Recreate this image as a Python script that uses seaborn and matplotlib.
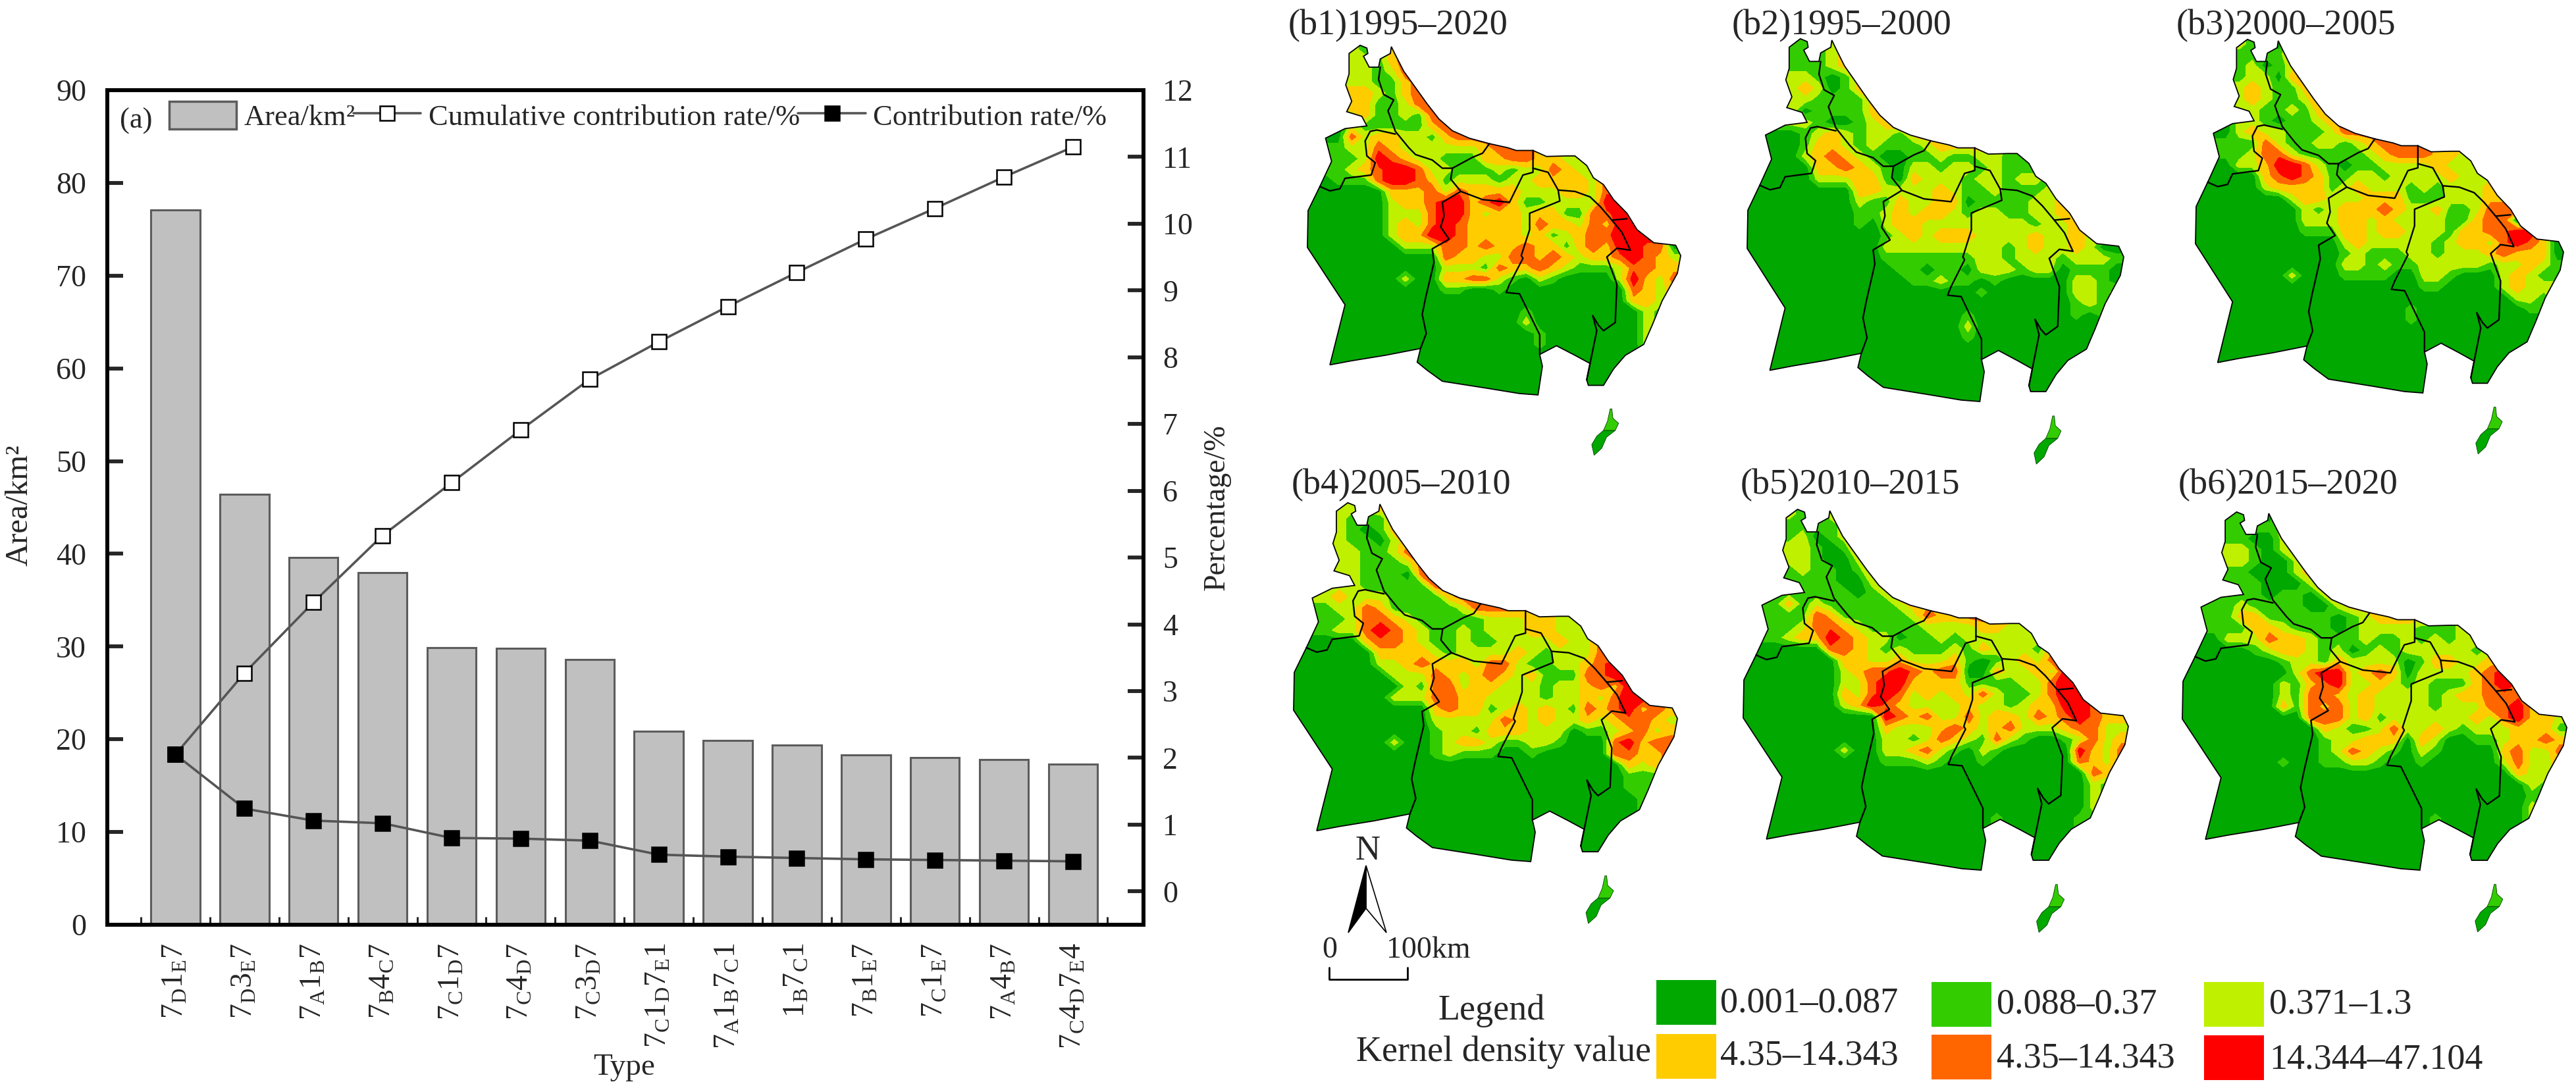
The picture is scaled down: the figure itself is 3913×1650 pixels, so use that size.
import re
import numpy as np
import pandas as pd
import seaborn as sns
import matplotlib.pyplot as plt
from matplotlib.lines import Line2D
from matplotlib.patches import Patch, Polygon, Rectangle
from matplotlib.path import Path

W, H = 3913, 1650

# bar + line chart
TYPES = ['7D1E7', '7D3E7', '7A1B7', '7B4C7', '7C1D7', '7C4D7', '7C3D7', '7C1D7E1', '7A1B7C1', '1B7C1',
         '7B1E7', '7C1E7', '7A4B7', '7C4D7E4']
AREA = [77.1, 46.4, 39.6, 38.0, 29.9, 29.8, 28.6, 20.9, 19.9, 19.4, 18.3, 18.0, 17.8, 17.3]
CUMULATIVE = [2.05, 3.27, 4.33, 5.33, 6.12, 6.91, 7.67, 8.23, 8.76, 9.27, 9.77, 10.23, 10.7, 11.15]
CONTRIBUTION = [2.05, 1.24, 1.06, 1.02, 0.8, 0.79, 0.76, 0.55, 0.52, 0.5, 0.48, 0.47, 0.46, 0.45]

# map panels
PANEL_TITLES = ['(b1)1995–2020', '(b2)1995–2000', '(b3)2000–2005', '(b4)2005–2010', '(b5)2010–2015', '(b6)2015–2020']
LEGEND_LABELS = ['0.001–0.087', '0.088–0.37', '0.371–1.3', '4.35–14.343', '4.35–14.343', '14.344–47.104']
CLASS_COLORS = ['#00A800', '#33CC00', '#BFF000', '#FFCC00', '#FF6600', '#FF0000']

# kernel density class per map cell, '.' is class 1
GRID_B1 = ["...32.4", "...33245", "...33235", "...332245", "...4432455", "...4422355", "...34223255",
           "....22222455", "...53443324555", "..2335433333345554", "..2236543322244554433",
           "..23456653322232335433", "..222566542333233444435", "......444535444433344355",
           "......3445664564223333665", "......3335664344344225566", "......34356544443544354665",
           "......34466544443423455666", ".......33355454454424546655", "..........544335545434456543",
           "..........333254454322235544", ".......3..445532.32....36435", "..........22..2.........5434",
           "........................443", "................2........32", "................3........32",
           ".................2.......3", ".................2.......3", ".........................2"]
GRID_B2 = ["...22.3", "...22.34", "...22234", "...332.245", "...343.244", "...33222244", ".....2222455",
           "...332..23455", "....23432332444", "....24432322234444", "....345432..223223322",
           ".....445432.3323323222", ".....333442.43332332332", "........4433334322322233",
           "........32243344.2222334", "........22343443233223344", "........2.3443333333323344",
           "..........2343444333343343", "..........3333333332343343", "..........222222233233323332",
           "...........22.22.333233.222", "............22322.2.....332", ".................2......3323",
           "........................2322", "................2.......2", "................3", "................2"]
GRID_B3 = ["...32..4", "...22.24", "...23.235", "...233.455", "...34322455", "...34322355", "....32232455",
           ".....2.223455", "...34332223555", "..22253223323455", "..2235532222234555443",
           "...33466532.2233334333", ".....456542233233334333", ".....344442343332323334",
           ".......3443334442223334", "........3234445433422355", "........3334434333322455",
           "........22244344333244556", "...........3433333234435654", "...........2322233233345444",
           "...........33232233333233432", ".......3...2222..332...34322", ".................22....34333",
           "........................3323", "................2........2", "................2"]
GRID_B4 = ["...33.4", "...32.24", "...32.244", "...322.34", "...3322355", "...33222355", "...33222.55",
           "....32222255", "..343332222455", "..23354222223555", "..2235543222223334433",
           "..23356543223233344333", ".....455432232233334335", "......444432333343233354",
           "......3345444355322334565", ".......333543454342225566", "........325534433323345466",
           ".......33355443333233435664", "..........454423434325456454", "..........333335434334345543",
           "..........2332444333.2234534", ".......3..2344322332...56455", "..........23222..2.....55445",
           "........................434", "........................222", "........................22",
           ".........................2", ".........................2"]
GRID_B5 = ["...32.3", "...22.23", "...23.234", "...332.24", "...332..34", "...2322.244", "...2222..344",
           ".....222.2355", "..2423222223444", "..22254222223544554", "..2235543222233334433",
           "..234465433.2232333333", "......55432322232433324", ".......4433433342.234354",
           ".......345565455..4334365", ".......335664444222233566", ".......4356534343532235665",
           ".......34654333343323446653", "..........654533534435456544", "..........433345434533345533",
           "..........33235432532..23534", ".......3..334532.32.....6435", "..........22232..2......5435",
           ".........................54", ".........................32", ".........................32",
           ".........................3", "..................2.....22"]
GRID_B6 = ["...22..3", "...22.23", "...22..3", "...332.34", "...332..34", "...22...344", "...222...344",
           ".....2.22.344", "..2232222..344", "..224422222.234444", "..222443222.233332223",
           "...333544322232232323", ".....2344323.2323333323", ".......233243333.244334",
           "........35663454.3333456", ".......324563343232224565", ".......325543433332344555",
           ".......4254534333323335564", ".........5553423333334356443", "..........432235334323334442",
           "..........233444.43..2234454", "..........235432.32....45335", ".......2..22332..2.....35334",
           "........................433", ".........................32", ".........................22",
           ".........................32", "..................2......3"]
GRIDS = [GRID_B1, GRID_B2, GRID_B3, GRID_B4, GRID_B5, GRID_B6]

# where the map sits in each panel: left, right, top, bottom of the mainland (px)
PANEL_BOXES = [(1986, 2553, 68, 600), (2654, 3226, 58, 610), (3335, 3894, 59, 597),
               (1965, 2548, 763, 1309), (2648, 3233, 773, 1322), (3315, 3899, 777, 1322)]
TITLE_POS = [(1957, 52), (2631, 52), (3306, 52), (1962, 750), (2644, 750), (3309, 750)]

OUTLINE = [(325, 165), (345, 175), (348, 195), (335, 205), (352, 245), (380, 245), (385, 215), (415, 195), (418, 170),
           (430, 200), (455, 260), (490, 320), (525, 380), (560, 435), (600, 478), (650, 505), (710, 525), (765, 540),
           (790, 550), (840, 550), (880, 572), (940, 570), (965, 570), (1000, 605), (1020, 650), (1050, 675), (1080, 730),
           (1120, 780), (1150, 840), (1200, 888), (1265, 897), (1280, 935), (1270, 1000), (1225, 1100), (1195, 1190),
           (1170, 1260), (1115, 1300), (1080, 1350), (1050, 1410), (1005, 1410), (1000, 1390), (1010, 1330), (965, 1300),
           (910, 1265), (860, 1297), (868, 1340), (855, 1445), (800, 1440), (700, 1420), (570, 1395), (525, 1355),
           (495, 1325), (505, 1275), (400, 1300), (300, 1320), (235, 1335), (280, 1115), (240, 1040), (168, 905),
           (170, 770), (205, 682), (240, 590), (222, 505), (280, 470), (345, 460), (330, 425), (285, 408), (300, 370),
           (282, 310), (292, 270), (292, 195)]
DISTRICTS = [
    [(385, 245), (380, 290), (395, 345), (425, 365), (408, 405), (430, 480), (470, 540), (490, 565), (540, 585), (570, 615),
     (600, 615), (660, 575), (690, 560), (710, 525)],
    [(205, 682), (235, 698), (265, 690), (280, 652), (358, 640), (370, 595), (345, 570), (340, 515), (355, 480), (375, 475),
     (430, 490)],
    [(600, 615), (595, 655), (625, 700), (690, 730), (770, 740), (790, 690), (810, 640), (840, 630), (840, 550)],
    [(840, 615), (885, 630), (915, 695), (965, 700), (1010, 720), (1040, 755), (1075, 805), (1120, 800)],
    [(1075, 805), (1105, 850), (1130, 915), (1090, 908), (1060, 940), (1090, 1040), (1085, 1180), (1050, 1210), (1035, 1190),
     (1018, 1155), (1030, 1210), (1010, 1330), (1000, 1390)],
    [(915, 695), (920, 735), (830, 780), (830, 840), (805, 935), (810, 945), (770, 1040), (760, 1070), (800, 1075),
     (860, 1225), (860, 1297)],
    [(625, 700), (570, 740), (575, 790), (565, 830), (590, 875), (540, 910), (545, 960), (520, 1090), (510, 1150),
     (522, 1220), (505, 1275)],
]
ISLAND_NORTH = [(1070, 1496), (1075, 1496), (1078, 1530), (1095, 1549), (1085, 1575), (1050, 1575), (1062, 1541)]
ISLAND_SOUTH = [(1050, 1575), (1085, 1575), (1059, 1600), (1045, 1640), (1022, 1666), (1015, 1627), (1030, 1596)]

CELL = 40
X0, Y0 = 160, 160
NCOL, NROW = 29, 33

sns.set_theme(style='white')
plt.rcParams['font.family'] = ['Liberation Serif', 'DejaVu Serif']
plt.rcParams['mathtext.fontset'] = 'custom'
plt.rcParams['mathtext.rm'] = 'Liberation Serif'
plt.rcParams['mathtext.it'] = 'Liberation Serif'

fig = plt.figure(figsize=(W / 100, H / 100), dpi=100)


def type_label(code):
    # capitals are subscripts
    return '$' + re.sub(r'([A-E])', r'_{\\mathrm{\1}}', code) + '$'


# left chart
left, right, top, bottom = 163, 1737, 137, 1405
ax = fig.add_axes([left / W, 1 - bottom / H, (right - left) / W, (bottom - top) / H])
df = pd.DataFrame({'type': TYPES, 'area': AREA, 'pos': np.arange(len(AREA)),
                   'cumulative': CUMULATIVE, 'contribution': CONTRIBUTION})
sns.barplot(data=df, x='type', y='area', color='#C0C0C0', saturation=1, edgecolor='#5C5C5C', linewidth=2.2,
            width=0.71, ax=ax)
ax2 = ax.twinx()
sns.lineplot(data=df, x='pos', y='cumulative', color='#555555', linewidth=2.6, marker='s', markersize=16,
             markerfacecolor='white', markeredgecolor='black', markeredgewidth=1.8, ax=ax2)
sns.lineplot(data=df, x='pos', y='contribution', color='#555555', linewidth=2.6, marker='s', markersize=16,
             markerfacecolor='black', markeredgecolor='black', markeredgewidth=1.8, ax=ax2)

ax.set_xlim(-0.986, 14.02)
ax.set_ylim(0, 90)
ax2.set_ylim(-0.5, 12)
ax.set_yticks(np.arange(0, 100, 10))
ax2.set_yticks(np.arange(0, 13))
ax.set_xticks(np.arange(15) - 0.5, labels=[])
ax.set_xticks(np.arange(14), labels=[type_label(t) for t in TYPES], minor=True, rotation=90, fontsize=33)
ax.tick_params(axis='x', which='major', direction='in', length=9, width=2.2, bottom=True)
ax.tick_params(axis='x', which='minor', length=0, pad=20)
ax.tick_params(axis='y', direction='in', length=17, width=4.2, labelsize=33, pad=23, left=True)
ax2.tick_params(axis='y', direction='in', length=17, width=4.2, labelsize=33, pad=21, right=True)
ax.set_xlabel('Type', fontsize=34, va='baseline')
ax.xaxis.set_label_coords(0.4987, -0.18)
ax.set_ylabel('Area/km²', fontsize=35, va='center')
ax.yaxis.set_label_coords(-0.085, 0.503)
ax2.set_ylabel('Percentage/%', fontsize=33, va='center')
ax2.yaxis.set_label_coords(1.0705, 0.5)
for a in (ax, ax2):
    for s in a.spines.values():
        s.set_linewidth(4.2)
        s.set_color('black')

handles = [Patch(facecolor='#C0C0C0', edgecolor='#5C5C5C', linewidth=2.5, label='Area/km²'),
           Line2D([], [], color='#555555', lw=2.6, marker='s', ms=16, mfc='white', mec='black', mew=1.8,
                  label='Cumulative contribution rate/%'),
           Line2D([], [], color='#555555', lw=2.6, marker='s', ms=16, mfc='black', mec='black', mew=1.8,
                  label='Contribution rate/%')]
ax2.legend(handles=handles, ncol=3, frameon=False, fontsize=32, loc='upper left',
           bbox_to_anchor=(257 / W, 1 - 154 / H), bbox_transform=fig.transFigure, borderpad=0, borderaxespad=0,
           handlelength=2.3, handleheight=1.08, handletextpad=0.25, columnspacing=-0.05)

# maps
levels = [0.5, 1.6, 2.5, 3.4, 4.4, 5.3, 6.5]
outline_path = Path(OUTLINE + [OUTLINE[0]])
cx = X0 + CELL / 2 + CELL * np.arange(NCOL)
cy = Y0 + CELL / 2 + CELL * np.arange(NROW)
xx, yy = np.meshgrid(cx, cy)
inside = outline_path.contains_points(np.c_[xx.ravel(), yy.ravel()]).reshape(xx.shape)


def read_grid(rows):
    rows = rows + [''] * (NROW - len(rows))
    vals = [[1 if c == '.' else int(c) for c in r.ljust(NCOL, '.')] for r in rows]
    return np.array(vals, dtype=float)


def extend_outside(vals):
    # cells past the coast take the nearest known class so the bands run up to the outline
    known = inside | (vals > 1)
    out = vals.copy()
    for i, j in zip(*np.where(~known)):
        d = (xx[known] - xx[i, j]) ** 2 + (yy[known] - yy[i, j]) ** 2
        out[i, j] = vals[known][np.argmin(d)]
    return out


for grid, box in zip(GRIDS, PANEL_BOXES):
    x0, x1, y0, y1 = box
    sx = (x1 - x0) / (1280 - 168)
    sy = (y1 - y0) / (1445 - 163)
    fx0, fx1, fy0, fy1 = 100, 1340, 130, 1720
    m = fig.add_axes([(x0 - (168 - fx0) * sx) / W, 1 - (y0 + (fy1 - 163) * sy) / H,
                      (fx1 - fx0) * sx / W, (fy1 - fy0) * sy / H])
    m.set_xlim(fx0, fx1)
    m.set_ylim(fy1, fy0)
    m.axis('off')
    vals = np.pad(extend_outside(read_grid(grid)), 1, mode='edge')
    px = np.r_[cx[0] - CELL, cx, cx[-1] + CELL]
    py = np.r_[cy[0] - CELL, cy, cy[-1] + CELL]
    cs = m.contourf(px, py, vals, levels=levels, colors=CLASS_COLORS)
    land = Polygon(OUTLINE, closed=True, facecolor='none', edgecolor='black', linewidth=1.3, zorder=3)
    m.add_patch(land)
    cs.set_clip_path(land)
    for line in DISTRICTS:
        m.plot(*zip(*line), color='black', lw=1.7, zorder=4)
    m.add_patch(Polygon(ISLAND_SOUTH, closed=True, facecolor=CLASS_COLORS[0], edgecolor='#004000', lw=0.6))
    m.add_patch(Polygon(ISLAND_NORTH, closed=True, facecolor=CLASS_COLORS[1], edgecolor='#004000', lw=0.6))

# titles, north arrow, scale bar and map legend sit on a pixel overlay
over = fig.add_axes([0, 0, 1, 1], facecolor='none')
over.set_xlim(0, W)
over.set_ylim(H, 0)
over.axis('off')
over.text(182, 195, '(a)', fontsize=32, va='baseline', ha='left')
for title, (tx, ty) in zip(PANEL_TITLES, TITLE_POS):
    over.text(tx, ty, title, fontsize=39, va='baseline', ha='left')

over.text(2078, 1306, 'N', fontsize=38, va='baseline', ha='center')
over.add_patch(Polygon([(2075, 1315), (2106, 1417), (2075, 1380)], closed=True, facecolor='white', edgecolor='black', lw=1.2))
over.add_patch(Polygon([(2075, 1315), (2048, 1417), (2075, 1380)], closed=True, facecolor='black', edgecolor='black', lw=1.2))
over.text(2020, 1455, '0', fontsize=33, va='baseline', ha='center')
over.text(2106, 1455, '100km', fontsize=33, va='baseline', ha='left')
over.plot([2019, 2019, 2138, 2138], [1470, 1488, 1488, 1470], color='black', lw=2)

over.text(2266, 1549, 'Legend', fontsize=39, va='baseline', ha='center')
over.text(2060, 1612, 'Kernel density value', fontsize=39, va='baseline', ha='left')
SWATCHES = [(2516, 1489), (2934, 1492), (3348, 1492), (2516, 1571), (2934, 1572), (3348, 1573)]
LABEL_POS = [(2613, 1537), (3033, 1539), (3447, 1540), (2613, 1618), (3033, 1621), (3447, 1623)]
for color, label, (sx0, sy0), (lx, ly) in zip(CLASS_COLORS, LEGEND_LABELS, SWATCHES, LABEL_POS):
    over.add_patch(Rectangle((sx0, sy0), 91, 68, facecolor=color, edgecolor='none'))
    over.text(lx, ly, label, fontsize=39, va='baseline', ha='left')

plt.savefig('out.png', dpi=100)
plt.close()
